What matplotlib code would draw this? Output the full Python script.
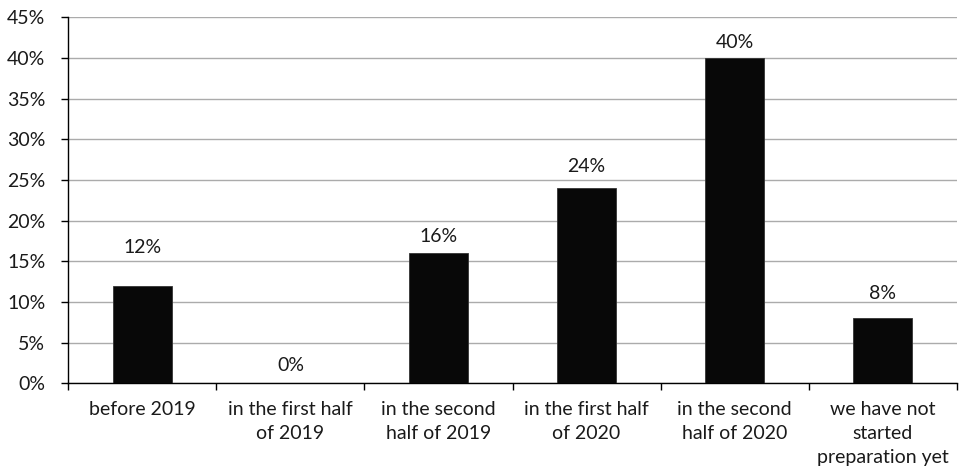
import matplotlib
matplotlib.use("Agg")
import matplotlib.pyplot as plt
from matplotlib.ticker import FixedLocator, PercentFormatter

# Данные
categories = [
    "before 2019",
    "in the first half\nof 2019",
    "in the second\nhalf of 2019",
    "in the first half\nof 2020",
    "in the second\nhalf of 2020",
    "we have not\nstarted\npreparation yet",
]
values = [12, 0, 16, 24, 40, 8]
value_labels = ["12%", "0%", "16%", "24%", "40%", "8%"]

# Смещение подписей над столбцами (в пикселях), как в оригинале
label_offsets = [38, 18, 17, 22, 15, 25]

plt.rcParams['font.family'] = ['Lato', 'DejaVu Sans']
FS = 14

fig = plt.figure(figsize=(9.63, 4.70), dpi=100)
W, H = 963, 470
ax = fig.add_axes([68.3 / W, 1 - 383.3 / H, (956.7 - 68.3) / W, (383.3 - 17.3) / H])

x = list(range(len(categories)))
ax.bar(x, values, width=0.4, color='#080808', edgecolor='#333333', linewidth=0.6, zorder=3)

for xi, v, lab, off in zip(x, values, value_labels, label_offsets):
    ax.annotate(lab, (xi, v), xytext=(0, off * 72 / 100), textcoords='offset points',
                ha='center', va='center', fontsize=FS, color='#1a1a1a')

ax.set_xlim(-0.5, len(categories) - 0.5)
ax.set_ylim(0, 45)
ax.yaxis.set_major_locator(FixedLocator(range(0, 46, 5)))
ax.yaxis.set_major_formatter(PercentFormatter(decimals=0))
ax.grid(axis='y', color='#ababab', linewidth=1.0, zorder=0)

# Засечки по оси X между категориями, подписи по центру
ax.set_xticks([i - 0.5 for i in range(len(categories) + 1)])
ax.set_xticklabels([])
ax.set_xticks(x, minor=True)
ax.set_xticklabels(categories, minor=True, fontsize=FS, color='#1a1a1a', linespacing=1.5)
ax.tick_params(axis='x', which='minor', length=0, pad=13)
ax.tick_params(axis='x', which='major', length=5, width=1.0, color='black', direction='out')
ax.tick_params(axis='y', length=5, width=1.0, labelsize=FS, labelcolor='#1a1a1a', pad=11.5)

for s in ['top', 'right']:
    ax.spines[s].set_visible(False)
for s in ['left', 'bottom']:
    ax.spines[s].set_linewidth(1.0)
    ax.spines[s].set_color('black')

fig.savefig('out.png', dpi=100)
